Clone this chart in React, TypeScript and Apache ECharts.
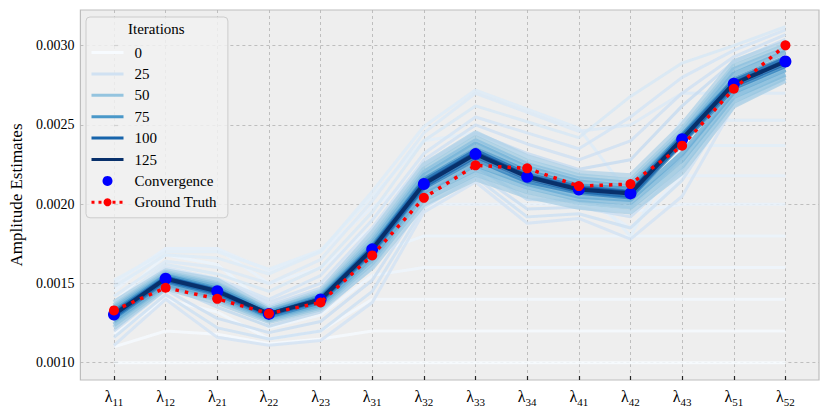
import { useEffect, useRef } from "react";
import * as echarts from "echarts";

// ---- data ----
const categories = ["11", "12", "21", "22", "23", "31", "32", "33", "34", "41", "42", "43", "51", "52"];
const xTicks = [0, 1, 2, 3, 4, 5, 6, 7, 8, 9, 10, 11, 12, 13];
const yTicks = [0.001, 0.0015, 0.002, 0.0025, 0.003];
const legendIterations = ["0", "25", "50", "75", "100", "125"];

const convergence = [0.001304, 0.00153, 0.001451, 0.001308, 0.001399, 0.001715, 0.002127, 0.002316, 0.002173, 0.002093, 0.002068, 0.00241, 0.00276, 0.0029];
const groundTruth = [0.00133, 0.001473, 0.001403, 0.00131, 0.00138, 0.001677, 0.00204, 0.002245, 0.002226, 0.002114, 0.002127, 0.002369, 0.002728, 0.003002];

// early iterations (pale, rising from the flat start)
const iter0 = [0.001, 0.001, 0.001, 0.001, 0.001, 0.001, 0.001, 0.001, 0.001, 0.001, 0.001, 0.001, 0.001, 0.001];
const iter2 = [0.0011, 0.0012, 0.00118, 0.00112, 0.00115, 0.0012, 0.0012, 0.0012, 0.0012, 0.0012, 0.0012, 0.0012, 0.0012, 0.0012];
const iter4 = [0.00118, 0.0014, 0.00132, 0.00115, 0.0012, 0.0014, 0.0014, 0.0014, 0.0014, 0.0014, 0.0014, 0.0014, 0.0014, 0.0014];
const iter6 = [0.00128, 0.00158, 0.00148, 0.00122, 0.0013, 0.00155, 0.0016, 0.0016, 0.0016, 0.0016, 0.0016, 0.0016, 0.0016, 0.0016];
const iter8 = [0.00138, 0.00168, 0.00162, 0.00135, 0.00145, 0.00168, 0.0018, 0.0018, 0.0018, 0.0018, 0.0018, 0.0018, 0.0018, 0.0018];
const iter10 = [0.00145, 0.00172, 0.00172, 0.0015, 0.0016, 0.00185, 0.002, 0.002, 0.002, 0.002, 0.00195, 0.002, 0.002, 0.002];
const iter12 = [0.0015, 0.00172, 0.00172, 0.00158, 0.0017, 0.00198, 0.0022, 0.0022, 0.0021, 0.00205, 0.00185, 0.00218, 0.00218, 0.00218];
const iter14 = [0.00152, 0.0017, 0.0017, 0.00159, 0.00171, 0.00205, 0.0024, 0.00245, 0.0023, 0.00215, 0.0018, 0.00237, 0.00237, 0.00237];
const iter16 = [0.00148, 0.00168, 0.00166, 0.00156, 0.0017, 0.00208, 0.00249, 0.00272, 0.0026, 0.00248, 0.00205, 0.00253, 0.00253, 0.00253];
const iter18 = [0.00142, 0.00164, 0.0016, 0.0015, 0.00165, 0.00202, 0.00245, 0.0027, 0.00258, 0.00246, 0.0025, 0.0027, 0.0027, 0.0027];
const iter20 = [0.00138, 0.00162, 0.00156, 0.00145, 0.0016, 0.00195, 0.0024, 0.00262, 0.00252, 0.00242, 0.00268, 0.00289, 0.003, 0.00312];
const iter22 = [0.00135, 0.0016, 0.00153, 0.0014, 0.00155, 0.0019, 0.00232, 0.00255, 0.00245, 0.00235, 0.00255, 0.0028, 0.00297, 0.0031];
const iter23 = [0.00111, 0.0014, 0.00116, 0.00111, 0.00114, 0.00138, 0.00195, 0.00214, 0.00188, 0.00191, 0.00178, 0.00205, 0.00262, 0.00278];
const iter25 = [0.00133, 0.00158, 0.00152, 0.00138, 0.0015, 0.00185, 0.00228, 0.0025, 0.00238, 0.00228, 0.0024, 0.0027, 0.00293, 0.00307];
const iter26 = [0.00116, 0.00143, 0.00122, 0.00115, 0.0012, 0.00145, 0.00198, 0.00217, 0.00192, 0.00194, 0.00185, 0.00215, 0.00265, 0.0028];
const iter28 = [0.0012, 0.00146, 0.00128, 0.00119, 0.00126, 0.00152, 0.00202, 0.0022, 0.00197, 0.00198, 0.00192, 0.00222, 0.00268, 0.00282];
const iter30 = [0.00132, 0.00157, 0.0015, 0.00136, 0.00147, 0.00182, 0.00225, 0.00245, 0.00232, 0.00222, 0.00228, 0.00262, 0.0029, 0.00304];
const iter33 = [0.00124, 0.00149, 0.00135, 0.00123, 0.00132, 0.0016, 0.00206, 0.00224, 0.00203, 0.00202, 0.00198, 0.0023, 0.0027, 0.00284];
// middle iterations (medium-blue band)
const iter40 = [0.00138, 0.00158, 0.00152, 0.00134, 0.00145, 0.00182, 0.00225, 0.00245, 0.0023, 0.0022, 0.00218, 0.0025, 0.0029, 0.00302];
const iter43 = [0.00122, 0.00147, 0.00138, 0.00126, 0.00134, 0.0016, 0.002, 0.00216, 0.00205, 0.00198, 0.00195, 0.0022, 0.00262, 0.00278];
const iter46 = [0.00136, 0.00157, 0.0015, 0.00133, 0.00144, 0.00179, 0.00222, 0.00242, 0.00227, 0.00218, 0.00215, 0.00247, 0.00287, 0.003];
const iter50 = [0.00124, 0.00148, 0.0014, 0.00127, 0.00135, 0.00163, 0.00203, 0.00219, 0.00208, 0.00201, 0.00198, 0.00224, 0.00265, 0.0028];
const iter53 = [0.00135, 0.00156, 0.00149, 0.00133, 0.00143, 0.00177, 0.0022, 0.0024, 0.00225, 0.00216, 0.00213, 0.00245, 0.00285, 0.00298];
const iter57 = [0.00126, 0.00149, 0.00141, 0.00128, 0.00136, 0.00165, 0.00206, 0.00222, 0.00211, 0.00203, 0.00201, 0.00228, 0.00268, 0.00282];
const iter61 = [0.00134, 0.00155, 0.00148, 0.00132, 0.00142, 0.00175, 0.00218, 0.00238, 0.00223, 0.00214, 0.00211, 0.00243, 0.00282, 0.00296];
const iter65 = [0.00127, 0.0015, 0.00142, 0.00129, 0.00137, 0.00167, 0.00208, 0.00225, 0.00213, 0.00205, 0.00203, 0.00232, 0.00271, 0.00285];
// late iterations (dark band around the converged line)
const iter75 = [0.00133, 0.00155, 0.00147, 0.00132, 0.00142, 0.00174, 0.00216, 0.00235, 0.00221, 0.00212, 0.0021, 0.00244, 0.00279, 0.00293];
const iter85 = [0.00128, 0.00151, 0.00143, 0.00129, 0.00138, 0.00169, 0.0021, 0.00228, 0.00214, 0.00207, 0.00204, 0.00238, 0.00273, 0.00287];
const iter95 = [0.00132, 0.00154, 0.00146, 0.00131, 0.00141, 0.00173, 0.00215, 0.00234, 0.00219, 0.00211, 0.00208, 0.00243, 0.00278, 0.00292];
const iter100 = [0.00129, 0.00152, 0.00144, 0.0013, 0.00139, 0.0017, 0.00211, 0.0023, 0.00216, 0.00208, 0.00205, 0.00239, 0.002745, 0.002885];
const iter112 = [0.00131, 0.001535, 0.001455, 0.00131, 0.0014, 0.00172, 0.002135, 0.002325, 0.00218, 0.0021, 0.002075, 0.002415, 0.002765, 0.002905];
const iter125 = convergence;

const runs: [number, number[]][] = [
  [0, iter0], [2, iter2], [4, iter4], [6, iter6], [8, iter8], [10, iter10], [12, iter12], [14, iter14],
  [16, iter16], [18, iter18], [20, iter20], [22, iter22], [23, iter23], [25, iter25], [26, iter26],
  [28, iter28], [30, iter30], [33, iter33],
  [40, iter40], [43, iter43], [46, iter46], [50, iter50], [53, iter53], [57, iter57], [61, iter61], [65, iter65],
  [75, iter75], [85, iter85], [95, iter95], [100, iter100], [112, iter112], [125, iter125],
];
const maxIteration = 125;

// ---- styling helpers ----
const BLUES = ["#f7fbff", "#deebf7", "#c6dbef", "#9ecae1", "#6baed6", "#4292c6", "#2171b5", "#08519c", "#08306b"];
function hexToRgb(h: string) {
  return [parseInt(h.slice(1, 3), 16), parseInt(h.slice(3, 5), 16), parseInt(h.slice(5, 7), 16)];
}
function blues(t: number) {
  const p = Math.max(0, Math.min(1, t)) * 8;
  const i = Math.min(7, Math.floor(p));
  const f = p - i;
  const a = hexToRgb(BLUES[i]);
  const b = hexToRgb(BLUES[i + 1]);
  const c = a.map((v, k) => Math.round(v + (b[k] - v) * f));
  return `rgb(${c[0]},${c[1]},${c[2]})`;
}
function lineWidthFor(it: number) {
  if (it === maxIteration) return 4;
  if (it >= 70) return 3.5;
  if (it >= 40) return 5;
  return 3;
}
function opacityFor(it: number) {
  if (it === maxIteration) return 1;
  if (it >= 70) return 0.8;
  if (it >= 40) return 0.75;
  return 0.85;
}

const FONT = "'Liberation Serif', 'DejaVu Serif', serif";

export default function App() {
  const ref = useRef<HTMLDivElement>(null);
  useEffect(() => {
    if (!ref.current) return;
    const chart = echarts.init(ref.current, undefined, { renderer: "svg" });

    const iterSeries = runs.map(([it, vals]) => ({
      type: "line",
      name: String(it),
      data: vals.map((v, i) => [xTicks[i], v]),
      symbol: "none",
      showSymbol: false,
      silent: true,
      z: 2,
      lineStyle: {
        color: blues(it / maxIteration),
        width: lineWidthFor(it),
        opacity: opacityFor(it),
      },
      itemStyle: { color: blues(it / maxIteration) },
    }));

    const legendData: any[] = [
      ...legendIterations.map((n) => ({
        name: n,
        itemStyle: { opacity: 0 },
        lineStyle: { width: 3, opacity: 1 },
      })),
      { name: "Convergence" },
      { name: "Ground Truth", lineStyle: { width: 3, type: [3, 4] } },
    ];

    const option: any = {
      animation: false,
      backgroundColor: "#ffffff",
      grid: {
        left: 79,
        right: 11,
        top: 10,
        bottom: 30,
        show: true,
        backgroundColor: "#eeeeee",
        borderColor: "#bdbdbd",
        borderWidth: 1.2,
      },
      xAxis: {
        type: "value",
        min: -0.65,
        max: 13.65,
        axisLine: { show: false },
        axisTick: {
          show: true,
          inside: true,
          length: 4,
          lineStyle: { color: "#222", width: 1.2 },
          customValues: xTicks,
        },
        axisLabel: {
          customValues: xTicks,
          margin: 6,
          formatter: (v: number) => `{l|λ}{s|${categories[Math.round(v)]}}`,
          rich: {
            l: { fontFamily: FONT, fontSize: 16, color: "#000" },
            s: { fontFamily: FONT, fontSize: 11, color: "#000", padding: [10, 0, 0, 0] },
          },
        },
        splitLine: {
          show: true,
          lineStyle: { color: "#b8b8b8", width: 0.9, type: [3, 3] },
        },
      },
      yAxis: {
        type: "value",
        min: 0.000891,
        max: 0.003225,
        name: "Amplitude Estimates",
        nameLocation: "middle",
        nameGap: 55,
        nameTextStyle: { fontFamily: FONT, fontSize: 17, color: "#000" },
        axisLine: { show: false },
        axisTick: {
          show: true,
          inside: true,
          length: 4,
          lineStyle: { color: "#222", width: 1.2 },
          customValues: yTicks,
        },
        axisLabel: {
          customValues: yTicks,
          margin: 6,
          fontFamily: FONT,
          fontSize: 14,
          color: "#000",
          formatter: (v: number) => v.toFixed(4),
        },
        splitLine: {
          show: true,
          lineStyle: { color: "#b8b8b8", width: 0.9, type: [3, 3] },
        },
      },
      legend: {
        orient: "vertical",
        left: 86,
        top: 17,
        padding: [28, 11, 8, 4],
        itemWidth: 32,
        itemHeight: 10,
        itemGap: 6.4,
        backgroundColor: "rgba(241,241,241,0.85)",
        borderColor: "#cccccc",
        borderWidth: 1,
        borderRadius: 4,
        data: legendData,
        textStyle: { fontFamily: FONT, fontSize: 15, color: "#000", padding: [0, 0, 0, 6] },
        selectedMode: false,
      },
      graphic: [
        {
          type: "text",
          left: 128,
          top: 21,
          z: 100,
          style: { text: "Iterations", fontFamily: FONT, fontSize: 15, fill: "#000" },
        },
      ],
      series: [
        ...iterSeries,
        {
          type: "scatter",
          name: "Convergence",
          data: convergence.map((v, i) => [xTicks[i], v]),
          symbol: "circle",
          symbolSize: 12,
          z: 5,
          itemStyle: { color: "#0000ff", opacity: 1 },
        },
        {
          type: "line",
          name: "Ground Truth",
          data: groundTruth.map((v, i) => [xTicks[i], v]),
          symbol: "circle",
          symbolSize: 10,
          showSymbol: true,
          z: 6,
          lineStyle: { color: "#ff0000", width: 3.5, type: [3.5, 6] },
          itemStyle: { color: "#ff0000" },
        },
      ],
    };
    chart.setOption(option);
    return () => chart.dispose();
  }, []);
  return (
    <div
      ref={ref}
      style={{ position: "fixed", left: 0, top: 0, width: 830, height: 410 }}
    />
  );
}
